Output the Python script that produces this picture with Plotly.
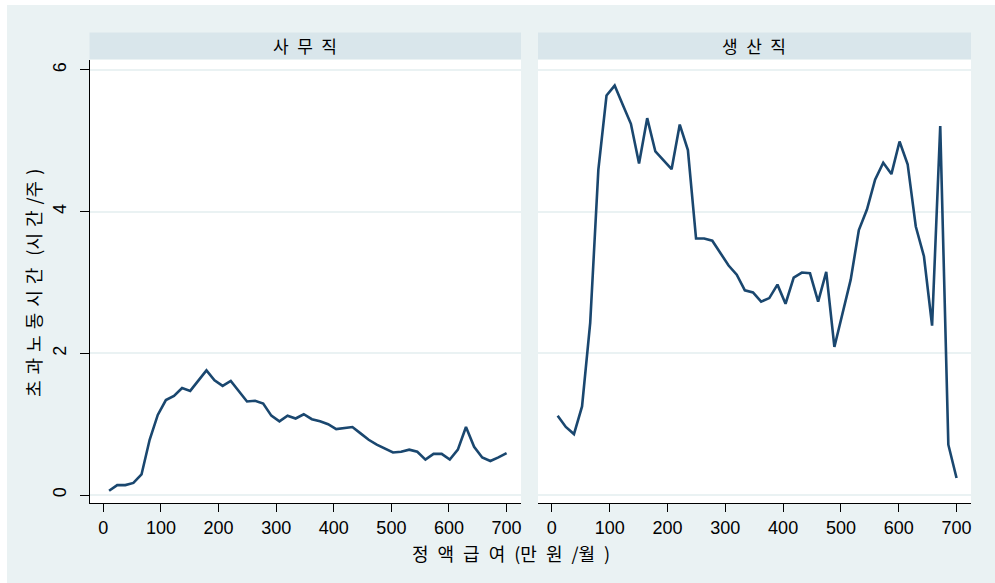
import plotly.graph_objects as go

# x positions (정액급여, 만원/월)
wage = [10, 24.1, 38.2, 52.2, 66.3, 80.4, 94.5, 108.6, 122.6, 136.7,
        150.8, 164.9, 179, 193, 207.1, 221.2, 235.3, 249.4, 263.4, 277.5,
        291.6, 305.7, 319.8, 333.8, 347.9, 362, 376.1, 390.2, 404.2, 418.3,
        432.4, 446.5, 460.6, 474.6, 488.7, 502.8, 516.9, 531, 545, 559.1,
        573.2, 587.3, 601.4, 615.4, 629.5, 643.6, 657.7, 671.8, 685.8, 700]

# 사무직
office = [0.06, 0.14, 0.14, 0.17, 0.29, 0.78, 1.13, 1.34, 1.40, 1.51,
          1.47, 1.61, 1.76, 1.62, 1.54, 1.61, 1.46, 1.32, 1.33, 1.29,
          1.12, 1.04, 1.12, 1.08, 1.14, 1.07, 1.04, 1.00, 0.93, 0.95,
          0.96, 0.87, 0.78, 0.71, 0.66, 0.60, 0.61, 0.64, 0.61, 0.50,
          0.58, 0.58, 0.50, 0.64, 0.96, 0.68, 0.53, 0.48, 0.53, 0.59]

# 생산직
production = [1.12, 0.96, 0.86, 1.25, 2.43, 4.59, 5.64, 5.78, 5.51, 5.24,
              4.68, 5.32, 4.85, 4.73, 4.60, 5.23, 4.87, 3.62, 3.62, 3.59,
              3.41, 3.24, 3.11, 2.89, 2.86, 2.73, 2.78, 2.97, 2.70, 3.07,
              3.14, 3.13, 2.73, 3.15, 2.09, 2.57, 3.04, 3.74, 4.03, 4.45,
              4.69, 4.53, 4.99, 4.67, 3.79, 3.37, 2.39, 5.21, 0.71, 0.24]

EN = "\u2002"
TH = "\u2004"
panel_titles = [EN.join("사무직"), EN.join("생산직")]
x_ticks = [0, 100, 200, 300, 400, 500, 600, 700]
y_ticks = [0, 2, 4, 6]
x_title = EN.join("정액급여") + EN + "(만" + EN + "원" + EN + "/월" + EN + ")"
y_title = TH.join("초과노동시간") + TH + TH + "(시" + TH + "간" + TH + "/주" + TH + ")"

W, H = 995, 583
LINE = "#1a476f"
BG = "#eaf2f3"
STRIP = "#d9e6eb"
NUM_FONT = "Liberation Sans, Arial"
KR_FONT = "Noto Sans CJK KR, Noto Sans"

def px(x):
    return x / W

def py(y):
    return (H - y) / H

left_dom = [px(89.5), px(521)]
right_dom = [px(538), px(971)]
y_dom = [py(503), py(60)]

fig = go.Figure()
fig.add_trace(go.Scatter(x=wage, y=office, mode="lines", xaxis="x", yaxis="y",
                         line=dict(color=LINE, width=2.6), hoverinfo="skip", showlegend=False))
fig.add_trace(go.Scatter(x=wage, y=production, mode="lines", xaxis="x2", yaxis="y2",
                         line=dict(color=LINE, width=2.6), hoverinfo="skip", showlegend=False))

xcommon = dict(range=[-24, 725], tickvals=x_ticks, ticks="outside", ticklen=8,
               tickcolor="#000000", tickwidth=1, showline=True, linecolor="#000000",
               linewidth=1, showgrid=False, zeroline=False,
               tickfont=dict(family=NUM_FONT, size=18, color="#000000"))
ycommon = dict(range=[-0.113, 6.141], tickvals=y_ticks, showgrid=True,
               gridcolor=BG, gridwidth=1.5, zeroline=False, domain=y_dom)

fig.update_layout(
    width=W, height=H,
    margin=dict(l=0, r=0, t=0, b=0),
    paper_bgcolor=BG, plot_bgcolor="#ffffff",
    xaxis=dict(domain=left_dom, anchor="y", **xcommon),
    xaxis2=dict(domain=right_dom, anchor="y2", **xcommon),
    yaxis=dict(anchor="x", ticks="outside", ticklen=9, tickcolor="#000000",
               showline=True, linecolor="#000000", linewidth=1, tickangle=-90,
               ticklabelstandoff=6,
               tickfont=dict(family=NUM_FONT, size=18, color="#000000"), **ycommon),
    yaxis2=dict(anchor="x2", matches="y", showticklabels=False, ticks="",
                showline=False, **ycommon),
    showlegend=False,
)

shapes = [
    # white outer border (left and top)
    dict(type="rect", xref="paper", yref="paper", x0=0, x1=px(7), y0=0, y1=1,
         fillcolor="#ffffff", line=dict(width=0), layer="below"),
    dict(type="rect", xref="paper", yref="paper", x0=0, x1=1, y0=py(5), y1=1,
         fillcolor="#ffffff", line=dict(width=0), layer="below"),
]
annotations = []
for dom, title in zip([left_dom, right_dom], panel_titles):
    shapes.append(dict(type="rect", xref="paper", yref="paper", x0=dom[0], x1=dom[1],
                       y0=py(59), y1=py(32.5), fillcolor=STRIP, line=dict(width=0)))
    annotations.append(dict(text=title, xref="paper", yref="paper",
                            x=(dom[0] + dom[1]) / 2, y=(py(59) + py(32.5)) / 2,
                            showarrow=False, xanchor="center", yanchor="middle",
                            font=dict(family=KR_FONT, size=17, color="#000000")))

annotations.append(dict(text=x_title, xref="paper", yref="paper",
                        x=px(511), y=py(553),
                        showarrow=False, xanchor="center", yanchor="middle",
                        font=dict(family=KR_FONT, size=18, color="#000000")))
annotations.append(dict(text=y_title, xref="paper", yref="paper",
                        x=px(33), y=py(283), textangle=-90,
                        showarrow=False, xanchor="center", yanchor="middle",
                        font=dict(family=KR_FONT, size=18, color="#000000")))

fig.update_layout(shapes=shapes, annotations=annotations)
fig.write_html("out.html")
